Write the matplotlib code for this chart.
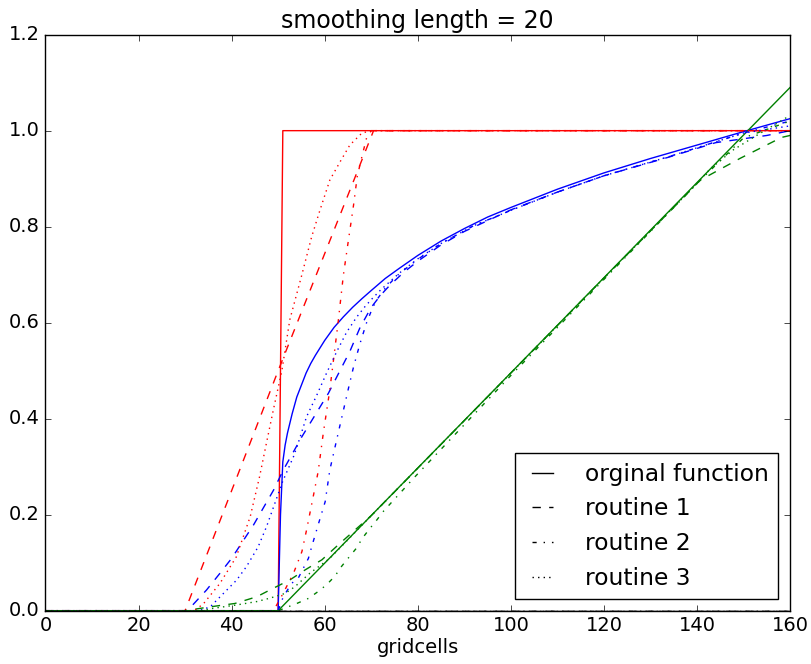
import matplotlib
matplotlib.use('Agg')
import matplotlib.pyplot as plt

plt.style.use('classic')

# original functions
red_x = [0, 50, 51, 160]
red_y = [0, 0, 1, 1]
blue_x = [0, 50, 50.5, 51, 51.5, 52, 53, 54, 55, 56, 57, 58, 60, 62, 64, 66, 68, 70, 73, 76, 80,
          85, 90, 95, 100, 110, 120, 130, 140, 150, 160]
blue_y = [0, 0, 0.2, 0.31, 0.345, 0.37, 0.41, 0.445, 0.47, 0.495, 0.515, 0.532, 0.563, 0.59, 0.612,
          0.632, 0.65, 0.667, 0.692, 0.713, 0.74, 0.77, 0.796, 0.82, 0.84, 0.878, 0.912, 0.942, 0.97,
          0.998, 1.025]
green_x = [0, 50, 160]
green_y = [0, 0, 1.09]

# routine 1 (dashed)
red1_x = [0, 30, 50, 70.5, 160]
red1_y = [0, 0, 0.5, 1, 1]
blue1_x = [0, 30.5, 34.6, 37.5, 40, 44.7, 49, 51.1, 55.1, 60.8, 63.7, 65.4, 67.6, 70, 72, 74, 77,
           80, 85, 90, 100, 110, 120, 134, 144, 155, 160]
blue1_y = [0, 0, 0.043, 0.078, 0.109, 0.1785, 0.251, 0.293, 0.3625, 0.453, 0.508, 0.54, 0.59, 0.632,
           0.657, 0.678, 0.705, 0.728, 0.762, 0.79, 0.835, 0.872, 0.906, 0.945, 0.975, 0.99, 1.0]
green1_x = [0, 30, 35.4, 40.7, 45.4, 48.2, 52.5, 55.8, 59.4, 62.9, 66.5, 70, 80, 100, 120, 136,
            140.7, 149.3, 158.2, 160]
green1_y = [0, 0, 0.008, 0.015, 0.029, 0.043, 0.064, 0.085, 0.106, 0.137, 0.168, 0.198, 0.297,
            0.495, 0.693, 0.85, 0.897, 0.9425, 0.986, 0.99]

# routine 2 (dash-dot)
red2_x = [0, 49, 51, 53.3, 55.1, 56.1, 57.6, 58.6, 59.7, 61.1, 62.9, 64, 65.1, 66.2, 67, 68, 69,
          70, 160]
red2_y = [0, 0, 0.035, 0.078, 0.123, 0.168, 0.241, 0.29, 0.37, 0.46, 0.602, 0.698, 0.772, 0.845,
          0.905, 0.946, 0.985, 1.0, 1.0]
blue2_x = [0, 50, 51.1, 52.9, 54.3, 56.5, 57.2, 58.6, 60.1, 61.1, 62.9, 65.1, 66.2, 67.6, 69, 70,
           71, 73, 76, 80, 85, 92, 100, 110, 120, 134, 150, 160]
blue2_y = [0, 0, 0.029, 0.057, 0.0675, 0.109, 0.133, 0.179, 0.227, 0.293, 0.37, 0.463, 0.508,
           0.557, 0.6, 0.624, 0.645, 0.672, 0.702, 0.732, 0.765, 0.802, 0.834, 0.872, 0.906, 0.946,
           0.995, 1.02]
green2_x = [0, 50, 54, 56.6, 58.6, 60.4, 62.2, 63.6, 65.1, 66.8, 68.1, 69.6, 71.2, 72.7, 74.4,
            76.2, 77.8, 79.4, 100, 120, 140, 150, 160]
green2_y = [0, 0, 0.015, 0.026, 0.04, 0.054, 0.072, 0.092, 0.11, 0.13, 0.151, 0.17, 0.189, 0.208,
            0.226, 0.245, 0.262, 0.279, 0.49, 0.69, 0.89, 0.985, 1.02]

# routine 3 (dotted)
red3_x = [0, 32, 34, 37.5, 41, 44, 46, 47.5, 49, 50.8, 52.5, 55.1, 57.2, 59, 61.1, 63.3, 65.4,
          68, 70, 160]
red3_y = [0, 0, 0.015, 0.057, 0.112, 0.196, 0.279, 0.35, 0.42, 0.5, 0.606, 0.7, 0.779, 0.835,
          0.897, 0.935, 0.97, 0.995, 1, 1]
blue3_x = [0, 33, 35.4, 41.1, 43.2, 45.7, 47.5, 49.3, 51, 53.3, 54.3, 56.1, 58.3, 60.4, 62.6,
           64.7, 66.9, 68.7, 70, 72, 76, 80, 85, 92, 100, 110, 120, 134, 150, 160]
blue3_y = [0, 0, 0.008, 0.064, 0.092, 0.133, 0.175, 0.224, 0.27, 0.321, 0.349, 0.404, 0.449,
           0.495, 0.54, 0.58, 0.612, 0.634, 0.648, 0.668, 0.703, 0.733, 0.765, 0.802, 0.834, 0.872,
           0.906, 0.946, 0.995, 1.01]
green3_x = [0, 33, 36.1, 41.1, 45.4, 48.2, 51.5, 53.6, 56.8, 61.1, 65, 70, 80, 100, 120, 140,
            142.8, 147.8, 152.8, 159, 160]
green3_y = [0, 0, 0.005, 0.012, 0.019, 0.026, 0.036, 0.05, 0.078, 0.109, 0.148, 0.198, 0.297,
            0.495, 0.693, 0.89, 0.92, 0.96, 0.99, 1.026, 1.03]

# black lines along zero only serve the legend
legend_x = [0, 160]
legend_y = [0, 0]
labels = ['orginal function', 'routine 1', 'routine 2', 'routine 3']
styles = ['-', '--', '-.', ':']

fig = plt.figure(figsize=(8.12, 6.64), dpi=100, facecolor='white')
ax = fig.add_axes([0.056, 0.0803, 0.917, 0.8675])

ax.plot(red_x, red_y, 'r-')
ax.plot(blue_x, blue_y, 'b-')
ax.plot(green_x, green_y, 'g-')
ax.plot(red1_x, red1_y, 'r--')
ax.plot(blue1_x, blue1_y, 'b--')
ax.plot(green1_x, green1_y, 'g--')
ax.plot(red2_x, red2_y, 'r-.')
ax.plot(blue2_x, blue2_y, 'b-.')
ax.plot(green2_x, green2_y, 'g-.')
ax.plot(red3_x, red3_y, 'r:')
ax.plot(blue3_x, blue3_y, 'b:')
ax.plot(green3_x, green3_y, 'g:')

for ls, lab in zip(styles, labels):
    ax.plot(legend_x, legend_y, color='k', linestyle=ls, label=lab)

ax.set_xlim(0, 160)
ax.set_ylim(0, 1.2)
ax.set_xticks(range(0, 161, 20))
ax.tick_params(labelsize=14)
ax.set_xlabel('gridcells', fontsize=14, labelpad=2)
ax.set_title('smoothing length = 20', fontsize=17)
ax.legend(loc='lower right', fontsize=16.8, handlelength=1.5, handletextpad=1.1)

fig.savefig('out.png', dpi=100, facecolor='white')
